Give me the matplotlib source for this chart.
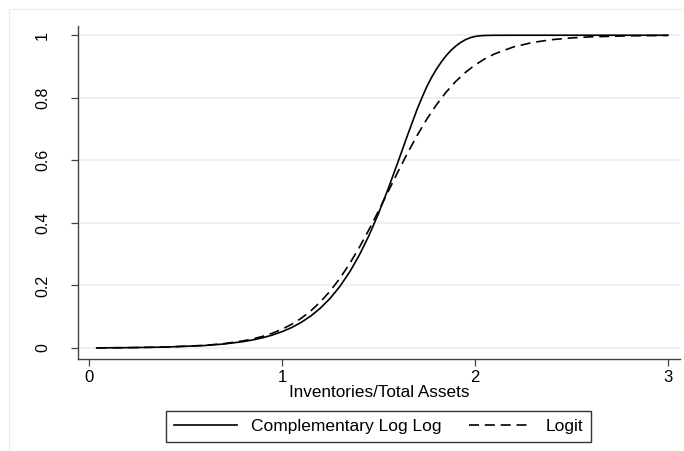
import matplotlib
matplotlib.use("Agg")
import matplotlib.pyplot as plt
from matplotlib.lines import Line2D

plt.rcParams['font.family'] = ['Liberation Sans', 'DejaVu Sans']

# values
x_cll = [0.04, 0.2, 0.4, 0.6, 0.7, 0.8, 0.85, 0.9, 0.95, 1.0, 1.05, 1.1, 1.15,
         1.2, 1.25, 1.3, 1.35, 1.4, 1.45, 1.5, 1.55, 1.6, 1.65, 1.7, 1.725,
         1.75, 1.775, 1.8, 1.825, 1.85, 1.875, 1.9, 1.925, 1.95, 1.975, 2.0,
         2.025, 2.05, 2.1, 2.2, 2.4, 2.6, 2.8, 3.0]
cloglog = [0.0006, 0.0012, 0.0032, 0.0081, 0.0130, 0.0207, 0.0261, 0.0329,
           0.0415, 0.0522, 0.0655, 0.0821, 0.1027, 0.1281, 0.1592, 0.1970,
           0.2423, 0.2961, 0.3585, 0.4297, 0.5085, 0.5928, 0.6791, 0.7626,
           0.8000, 0.8350, 0.8650, 0.8910, 0.9140, 0.9340, 0.9510, 0.9650,
           0.9765, 0.9855, 0.9920, 0.9960, 0.9982, 0.9992, 0.9998,
           1.0, 1.0, 1.0, 1.0, 1.0]

x_logit = [0.04, 0.2, 0.4, 0.6, 0.7, 0.8, 0.85, 0.9, 0.95, 1.0, 1.05, 1.1, 1.15,
           1.2, 1.25, 1.3, 1.35, 1.4, 1.45, 1.5, 1.55, 1.6, 1.65, 1.7, 1.75, 1.8,
           1.85, 1.9, 1.95, 2.0, 2.05, 2.1, 2.2, 2.3, 2.4, 2.5, 2.6, 2.8, 3.0]
logit = [0.0005, 0.0012, 0.0032, 0.0086, 0.0141, 0.0230, 0.0293, 0.0374,
         0.0474, 0.0601, 0.0759, 0.0953, 0.1192, 0.1480, 0.1824, 0.2227,
         0.2689, 0.3208, 0.3775, 0.4378, 0.5000, 0.5622, 0.6225, 0.6792,
         0.7311, 0.7773, 0.8176, 0.8520, 0.8808, 0.9047, 0.9241, 0.9399,
         0.9627, 0.9770, 0.9859, 0.9914, 0.9948, 0.9981, 0.9993]

x_ticks = [0, 1, 2, 3]
y_ticks = [0, 0.2, 0.4, 0.6, 0.8, 1]
y_tick_labels = ['0', '0.2', '0.4', '0.6', '0.8', '1']

fig = plt.figure(figsize=(6.84, 4.51), dpi=100)
ax = fig.add_axes([0.114, 0.204, 0.880, 0.738])

for yv in y_ticks:
    ax.axhline(yv, color='#e6eef0', lw=1.1, zorder=0)

ax.plot(x_cll, cloglog, color='black', lw=1.2, label='Complementary Log Log')
ax.plot(x_logit, logit, color='black', lw=1.2, linestyle=(0, (6, 3.5)), label='Logit')

ax.set_xlim(-0.057, 3.062)
ax.set_ylim(-0.035, 1.029)
ax.set_xticks(x_ticks)
ax.set_yticks(y_ticks)
ax.set_yticklabels(y_tick_labels, rotation=90, va='center')

for s in ['top', 'right']:
    ax.spines[s].set_visible(False)
for s in ['left', 'bottom']:
    ax.spines[s].set_color('#444444')
    ax.spines[s].set_linewidth(1.0)

ax.tick_params(axis='x', length=5, width=0.9, color='#444444', labelsize=12, pad=3)
ax.tick_params(axis='y', length=5, width=0.9, color='#444444', labelsize=11.5, pad=15)
ax.set_xlabel('Inventories/Total Assets', fontsize=12.3, labelpad=0)

leg = fig.legend(loc='upper center', bbox_to_anchor=(0.5534, 0.0887), ncol=2,
                 fontsize=12.5, frameon=True, fancybox=False, edgecolor='black',
                 handlelength=3.6, columnspacing=1.6, handletextpad=0.8,
                 borderpad=0.45, borderaxespad=0)
leg.get_frame().set_linewidth(1.0)

# faint graph region outline
fig.add_artist(Line2D([9 / 684, 1], [1 - 9 / 451, 1 - 9 / 451], color='#ececec', lw=0.8))
fig.add_artist(Line2D([9 / 684, 9 / 684], [0, 1 - 9 / 451], color='#ececec', lw=0.8))

fig.savefig('out.png', dpi=100)
